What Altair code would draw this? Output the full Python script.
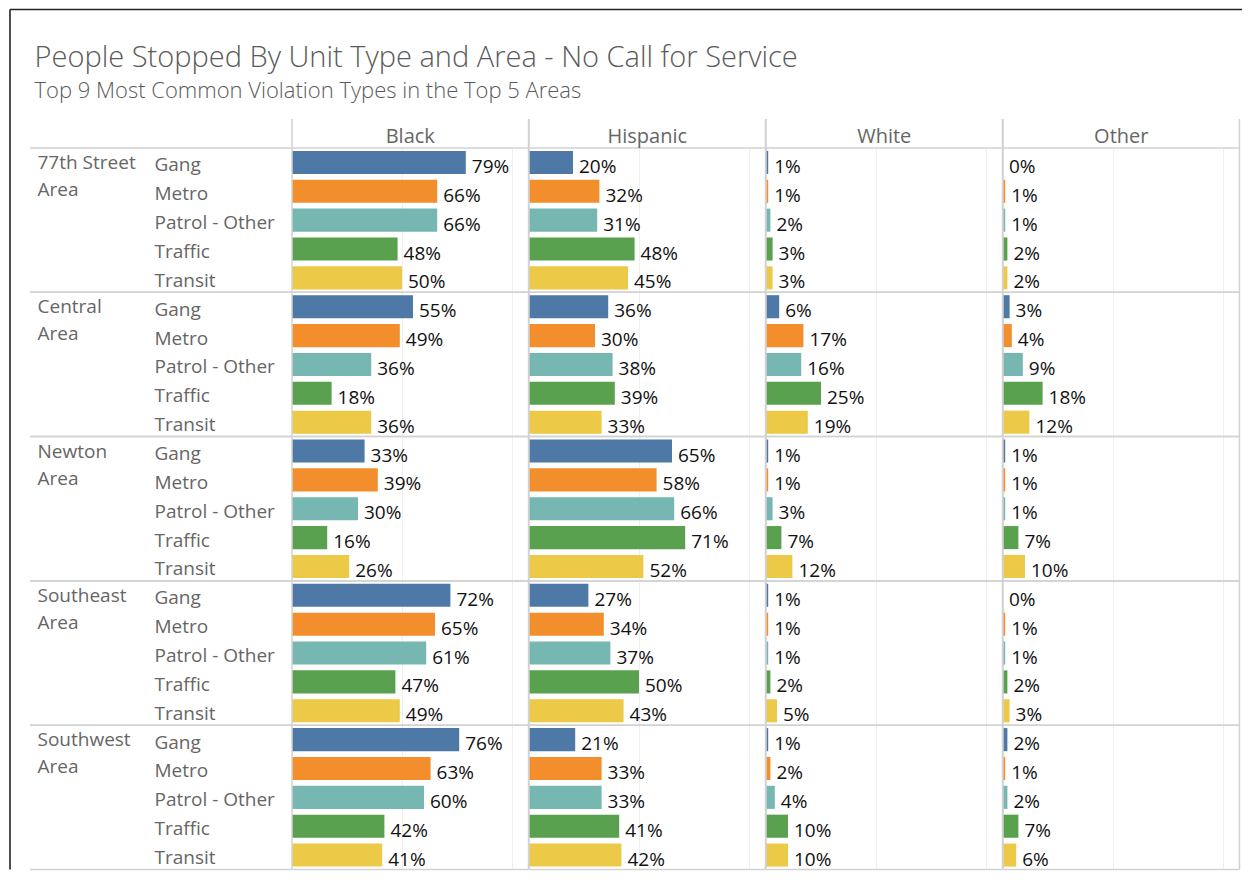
import altair as alt
import pandas as pd

TITLE = "People Stopped By Unit Type and Area - No Call for Service"
SUBTITLE = "Top 9 Most Common Violation Types in the Top 5 Areas"

areas = ["77th Street Area", "Central Area", "Newton Area", "Southeast Area", "Southwest Area"]
units = ["Gang", "Metro", "Patrol - Other", "Traffic", "Transit"]
races = ["Black", "Hispanic", "White", "Other"]
unit_colors = ["#4e79a7", "#f28e2b", "#76b7b2", "#59a14f", "#edc948"]

# percent values, area-major (5 units per area)
black = [79, 66, 66, 48, 50,
         55, 49, 36, 18, 36,
         33, 39, 30, 16, 26,
         72, 65, 61, 47, 49,
         76, 63, 60, 42, 41]
hispanic = [20, 32, 31, 48, 45,
            36, 30, 38, 39, 33,
            65, 58, 66, 71, 52,
            27, 34, 37, 50, 43,
            21, 33, 33, 41, 42]
white = [1, 1, 2, 3, 3,
         6, 17, 16, 25, 19,
         1, 1, 3, 7, 12,
         1, 1, 1, 2, 5,
         1, 2, 4, 10, 10]
other = [0, 1, 1, 2, 2,
         3, 4, 9, 18, 12,
         1, 1, 1, 7, 10,
         0, 1, 1, 2, 3,
         2, 1, 2, 7, 6]

series = {"Black": black, "Hispanic": hispanic, "White": white, "Other": other}

rows = []
for race in races:
    vals = series[race]
    i = 0
    for a in areas:
        for u in units:
            v = vals[i]
            i += 1
            rows.append({"race": race, "area": a, "unit": u, "key": a + "|" + u,
                         "value": v / 100.0, "label": f"{v}%"})
df = pd.DataFrame(rows)
keys = [a + "|" + u for a in areas for u in units]

FONT = "Open Sans"
GRAY = "#666666"
SEP = "#d2d2d2"
GRID = "#efefef"
H = 721.5
W = 236.5
LW = 262
AREA_H = H / len(areas)

key_scale = alt.Scale(domain=keys, paddingInner=0.2, paddingOuter=0.1)
area_scale = alt.Scale(domain=areas, paddingInner=0, paddingOuter=0)
x_scale = alt.Scale(domain=[0, 1.075], nice=False, zero=True)
grid_axis = alt.Axis(values=[0.5, 1.0], grid=True, gridColor=GRID, gridWidth=1,
                     labels=False, ticks=False, domain=False, title=None)


def race_chart(race):
    base = alt.Chart(df).transform_filter(alt.datum.race == race)
    bars = base.mark_bar(cornerRadius=0).encode(
        x=alt.X("value:Q", scale=x_scale, axis=grid_axis),
        y=alt.Y("key:N", scale=key_scale, axis=None),
        color=alt.Color("unit:N", scale=alt.Scale(domain=units, range=unit_colors), legend=None),
    )
    text = base.mark_text(align="left", baseline="alphabetic", dx=6, dy=10.5,
                          font=FONT, fontSize=19, color="#111111").encode(
        x=alt.X("value:Q", scale=x_scale),
        y=alt.Y("key:N", scale=key_scale, axis=None),
        text="label:N",
    )
    sep_top = base.transform_filter(alt.datum.unit == "Gang").mark_rule(color=SEP, strokeWidth=1.5).encode(
        y=alt.Y("area:N", scale=area_scale, axis=None, bandPosition=0),
        x=alt.value(0), x2=alt.value(W),
    )
    sep_bot = base.transform_filter(alt.datum.unit == "Gang").mark_rule(color=SEP, strokeWidth=1.5).encode(
        y=alt.Y("area:N", scale=area_scale, axis=None, bandPosition=1),
        x=alt.value(0), x2=alt.value(W),
    )
    first = base.transform_filter((alt.datum.unit == "Gang") & (alt.datum.area == areas[0]))
    header = first.mark_text(align="center", baseline="alphabetic", font=FONT, fontSize=20,
                             color=GRAY).encode(
        text="race:N", x=alt.value(W / 2), y=alt.value(-5.5))
    vl = first.mark_rule(color=SEP, strokeWidth=1.5).encode(
        x=alt.value(0), y=alt.value(-29), y2=alt.value(H))
    vr = first.mark_rule(color=SEP, strokeWidth=1.5).encode(
        x=alt.value(W), y=alt.value(-29), y2=alt.value(H))
    return alt.layer(bars, text, sep_top, sep_bot, header, vl, vr).resolve_scale(
        y="independent").properties(width=W, height=H,
                                    view=alt.ViewBackground(stroke="transparent"))


lab_base = alt.Chart(df).transform_filter(alt.datum.race == races[0])
area_text = lab_base.transform_filter(alt.datum.unit == "Gang").transform_calculate(
    disp="replace(datum.area, ' Area', '\\nArea')"
).mark_text(align="left", baseline="alphabetic", lineBreak="\n", lineHeight=27,
            font=FONT, fontSize=19, color=GRAY, dy=21 - AREA_H / 2).encode(
    y=alt.Y("area:N", scale=area_scale, axis=None),
    x=alt.value(7.5), text="disp:N")
unit_text = lab_base.mark_text(align="left", baseline="alphabetic", dy=9,
                               font=FONT, fontSize=19, color=GRAY).encode(
    y=alt.Y("key:N", scale=key_scale, axis=None),
    x=alt.value(124.5), text="unit:N")
lab_sep_top = lab_base.transform_filter(alt.datum.unit == "Gang").mark_rule(color=SEP, strokeWidth=1.5).encode(
    y=alt.Y("area:N", scale=area_scale, axis=None, bandPosition=0),
    x=alt.value(0), x2=alt.value(LW))
lab_sep_bot = lab_base.transform_filter(alt.datum.unit == "Gang").mark_rule(color=SEP, strokeWidth=1.5).encode(
    y=alt.Y("area:N", scale=area_scale, axis=None, bandPosition=1),
    x=alt.value(0), x2=alt.value(LW))

tdf = pd.DataFrame({"title": [TITLE], "subtitle": [SUBTITLE]})
title_text = alt.Chart(tdf).mark_text(align="left", baseline="alphabetic", font=FONT,
                                      fontSize=29, fontWeight=300, color="#5a5a5a").encode(
    text="title:N", x=alt.value(4.5), y=alt.value(-81))
subtitle_text = alt.Chart(tdf).mark_text(align="left", baseline="alphabetic", font=FONT,
                                         fontSize=22, fontWeight=300, color="#5a5a5a").encode(
    text="subtitle:N", x=alt.value(4.5), y=alt.value(-50))
frame_left = alt.Chart(tdf).mark_rule(color="#222222", strokeWidth=1.6).encode(
    x=alt.value(-20), y=alt.value(-138.5), y2=alt.value(H))
frame_top = alt.Chart(tdf).mark_rule(color="#222222", strokeWidth=1.6).encode(
    x=alt.value(-20), x2=alt.value(1212), y=alt.value(-138.5))

labels_chart = alt.layer(lab_sep_top, lab_sep_bot, area_text, unit_text, title_text,
                         subtitle_text, frame_left, frame_top).resolve_scale(
    y="independent").properties(width=LW, height=H,
                                view=alt.ViewBackground(stroke="transparent"))

chart = alt.hconcat(labels_chart, *[race_chart(r) for r in races], spacing=0,
                    bounds="flush").properties(padding=0).configure_view(stroke="transparent")

chart.save("out.html", embed_options={"renderer": "svg", "actions": False})
